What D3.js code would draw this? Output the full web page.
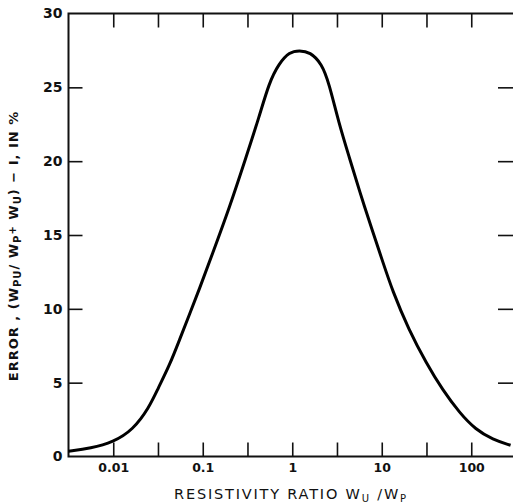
<!DOCTYPE html>
<html><head><meta charset="utf-8">
<script src="https://cdn.jsdelivr.net/npm/d3@7"></script>
<style>body{margin:0;background:#fff}svg{display:block}</style>
</head><body>
<script>
// Data: resistivity ratio (log scale) vs error %
const ratio = [0.00316,0.0056,0.01,0.0166,0.0251,0.0316,0.0427,0.055,0.0708,0.0912,0.126,0.2,0.302,0.427,0.55,0.708,0.933,1.2,1.58,2.14,2.57,3.31,4.37,5.62,7.94,10.0,13.2,20.0,31.6,47.9,74.1,112,174,275];
const errorPct = [0.35,0.55,0.97,1.8,3.3,4.6,6.2,7.9,9.6,11.3,13.6,16.9,20.2,23.0,25.3,26.6,27.4,27.5,27.4,26.6,25.3,22.6,20.2,18.0,15.2,13.4,11.2,8.6,6.3,4.5,2.95,1.82,1.15,0.76];
const xTickValues = [0.01,0.0316,0.1,0.316,1,3.16,10,31.6,100];
const xTickLabels = {0.01:"0.01",0.1:"0.1",1:"1",10:"10",100:"100"};
const yTickValues = [0,5,10,15,20,25,30];

const W=513,H=503;
const svg=d3.select("body").append("svg").attr("width",W).attr("height",H);
const x=d3.scaleLog().domain([Math.pow(10,-2.5),Math.pow(10,2.5)]).range([68.5,516]);
const y=d3.scaleLinear().domain([0,30]).range([456.5,13.5]);
const font="'DejaVu Sans', sans-serif";

// frame
svg.append("rect").attr("x",x.range()[0]).attr("y",y(30)).attr("width",x.range()[1]-x.range()[0]).attr("height",y(0)-y(30))
  .attr("fill","none").attr("stroke","#111").attr("stroke-width",2);

// bottom axis
const xb=svg.append("g").attr("transform",`translate(0,${y(0)})`)
  .call(d3.axisBottom(x).tickValues(xTickValues).tickSize(-14).tickPadding(7).tickFormat(d=>xTickLabels[d]||""));
// top axis
const xt=svg.append("g").attr("transform",`translate(0,${y(30)})`)
  .call(d3.axisTop(x).tickValues(xTickValues).tickSize(-14).tickFormat(""));
// left axis
const yl=svg.append("g").attr("transform",`translate(${x.range()[0]},0)`)
  .call(d3.axisLeft(y).tickValues(yTickValues).tickSize(-14).tickPadding(6).tickFormat(d3.format("d")));
// right axis
const yr=svg.append("g").attr("transform",`translate(${x.range()[1]-3},0)`)
  .call(d3.axisRight(y).tickValues(yTickValues.filter(d=>d>0&&d<30)).tickSize(-15).tickFormat(""));
[xb,xt,yl,yr].forEach(g=>{
  g.select(".domain").remove();
  g.selectAll(".tick line").attr("stroke","#111").attr("stroke-width",1.6);
  g.selectAll("text").attr("fill","#111").attr("font-family",font).attr("font-size",12.5).attr("font-weight","bold");
});
yl.selectAll("text").attr("font-size",14).attr("dx",0);
yl.selectAll(".tick").filter(d=>d===0||d===30).select("line").remove();

// curve
const line=d3.line().x((d,i)=>x(ratio[i])).y(d=>y(d)).curve(d3.curveBasis);
svg.append("path").datum(errorPct).attr("d",line).attr("fill","none").attr("stroke","#000").attr("stroke-width",3);

// x label
const xl=svg.append("text").attr("x",291).attr("y",499).attr("text-anchor","middle")
  .attr("font-family",font).attr("font-size",14.5).attr("letter-spacing",1.8).attr("fill","#111");
xl.append("tspan").text("RESISTIVITY RATIO  W");
xl.append("tspan").attr("baseline-shift","-25%").attr("font-size",10).text("U");
xl.append("tspan").text(" /W");
xl.append("tspan").attr("baseline-shift","-25%").attr("font-size",10).text("P");

// y label
const yt=svg.append("text").attr("transform","translate(18,246) rotate(-90)").attr("text-anchor","middle")
  .attr("font-family",font).attr("font-size",13).attr("font-weight","bold").attr("letter-spacing",1).attr("fill","#111");
yt.append("tspan").text("ERROR , (W");
yt.append("tspan").attr("baseline-shift","-25%").attr("font-size",10).text("PU");
yt.append("tspan").text("/ W");
yt.append("tspan").attr("baseline-shift","-25%").attr("font-size",10).text("P");
yt.append("tspan").attr("baseline-shift","20%").attr("font-size",10).text("+");
yt.append("tspan").text(" W");
yt.append("tspan").attr("baseline-shift","-25%").attr("font-size",10).text("U");
yt.append("tspan").text(") − I, IN %");
</script>
</body></html>
